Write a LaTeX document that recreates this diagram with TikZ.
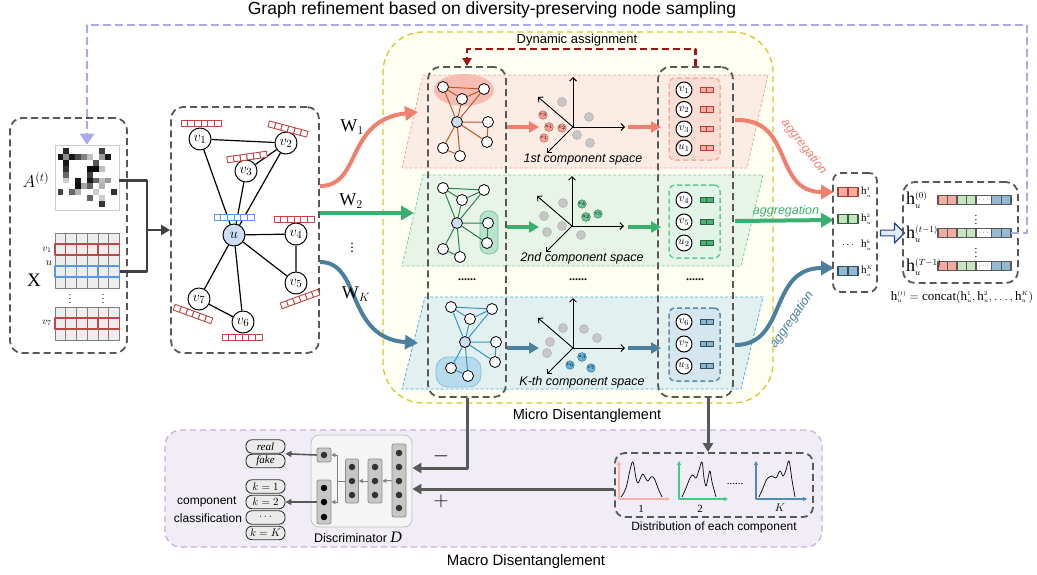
\documentclass[tikz,border=0pt]{standalone}
\usepackage{fontspec}
\setmainfont{Liberation Serif}
\setsansfont{Liberation Sans}
\usetikzlibrary{arrows.meta,shapes.arrows,calc}
\definecolor{sal}{RGB}{240,128,110}
\definecolor{psal}{RGB}{245,178,165}
\definecolor{grn}{RGB}{58,176,112}
\definecolor{pgrn}{RGB}{70,200,135}
\definecolor{tea}{RGB}{74,128,156}
\definecolor{ptea}{RGB}{80,140,180}
\definecolor{dgray}{RGB}{88,88,88}
\definecolor{lav}{RGB}{170,170,235}
\definecolor{yel}{RGB}{212,202,40}
\definecolor{yfill}{RGB}{254,254,242}
\definecolor{dred}{RGB}{160,20,20}
\definecolor{barred}{RGB}{190,70,70}
\definecolor{ublue}{RGB}{90,150,230}
\definecolor{ufill}{RGB}{205,222,245}
\definecolor{lfa}{RGB}{251,236,228}
\definecolor{lla}{RGB}{245,165,150}
\definecolor{lfb}{RGB}{233,244,232}
\definecolor{llb}{RGB}{120,205,165}
\definecolor{lfc}{RGB}{226,240,240}
\definecolor{llc}{RGB}{80,175,225}
\definecolor{ea}{RGB}{190,90,40}
\definecolor{eb}{RGB}{40,130,80}
\definecolor{ec}{RGB}{50,150,200}
\definecolor{mfill}{RGB}{241,237,246}
\definecolor{mline}{RGB}{200,175,225}
\definecolor{ba}{RGB}{180,60,50}
\definecolor{bfa}{RGB}{245,172,160}
\definecolor{bb}{RGB}{40,100,60}
\definecolor{bfb}{RGB}{200,228,190}
\definecolor{bc}{RGB}{45,80,100}
\definecolor{bfc}{RGB}{150,185,210}
\definecolor{mga}{RGB}{80,175,115}
\definecolor{mgc}{RGB}{140,180,205}
\definecolor{ina}{RGB}{250,222,212}
\definecolor{inb}{RGB}{226,243,232}
\definecolor{inc}{RGB}{214,230,238}
\definecolor{inla}{RGB}{245,175,160}
\definecolor{inlb}{RGB}{100,200,150}
\definecolor{inlc}{RGB}{90,140,170}
\tikzset{
  gbox/.style={draw=dgray, line width=1.8pt, dash pattern=on 7pt off 4pt, rounded corners=12pt, inner sep=0pt},
  vn/.style={circle, draw=black, line width=1pt, fill=white, minimum size=22pt, inner sep=0pt, font=\fontsize{15}{15}\selectfont},
  sn/.style={circle, draw=black, line width=0.8pt, fill=white, minimum size=11pt, inner sep=0pt},
  cn/.style={circle, draw=black, line width=1pt, fill=white, minimum size=16pt, inner sep=0pt, font=\fontsize{11}{11}\selectfont},
  gpt/.style={circle, draw=black!35, fill=black!22, minimum size=9pt, inner sep=0pt},
  cpt/.style={circle, draw=#1!70!black, fill=#1!75, minimum size=8.5pt, inner sep=0pt, font=\fontsize{5}{5}\selectfont},
  axl/.style={draw=black, line width=0.9pt, -{Straight Barb[length=3.5pt,width=7pt]}},
  larr/.style={draw=#1, line width=3.5pt, -{Triangle[length=10pt,width=11pt]}},
  warr/.style={draw=#1, line width=4pt, -{Triangle[length=13pt,width=14pt]}},
  bigarr/.style={draw=dgray, line width=3pt, -{Triangle[length=9pt,width=10pt]}},
  pill/.style={draw=black!80, line width=0.9pt, fill=black!8, rounded corners=6pt, minimum width=39pt, minimum height=13.5pt, inner sep=0pt, font=\fontsize{11}{11}\selectfont\itshape},
  layerbox/.style={draw=black!45, fill=black!22, line width=0.7pt, rounded corners=2pt, minimum width=14pt, inner sep=0pt},
  dn/.style={circle, fill=black!80, minimum size=6.5pt, inner sep=0pt},
  garr/.style={draw=black!50, line width=1pt, -{Triangle[length=4pt,width=4pt]}},
  darr/.style={draw=dgray, line width=1.6pt, -{Triangle[length=6pt,width=6pt]}},
  sflab/.style={font=\sffamily\fontsize{#1}{#1}\selectfont},
  itlab/.style={font=\sffamily\itshape\fontsize{12.5}{12.5}\selectfont},
  hlab/.style={font=\fontsize{18}{18}\selectfont, inner sep=0pt, anchor=west},
  pics/rbar/.style={code={\foreach \i in {0,...,5} \draw[draw=#1, line width=0.9pt, fill=white] (-20+\i*6.667,-3) rectangle ++(6.667,6);}},
  pics/mini/.style 2 args={code={\draw[draw=#1, fill=#2, line width=0.9pt] (-6.5,-2.75) rectangle (0,2.75) (0,-2.75) rectangle (6.5,2.75);}},
  pics/lgraph/.style={code={
    \node[sn,fill=ufill] (-c) at (0,0) {};
    \node[sn] (-tl) at (-14,-35) {};
    \node[sn] (-tr) at (27,-33) {};
    \node[sn] (-m) at (5,-23) {};
    \node[sn] (-r) at (31,0) {};
    \node[sn] (-rb) at (30,20) {};
    \node[sn] (-bl) at (-14,26) {};
    \node[sn] (-b) at (3,34) {};
    \draw[draw=#1, line width=1pt] (-tl)--(-tr) (-tl)--(-m) (-m)--(-tr) (-tl)--(-c) (-tr)--(-c) (-m)--(-c) (-c)--(-r) (-r)--(-rb) (-c)--(-rb) (-c)--(-bl) (-c)--(-b) (-bl)--(-b);
  }},
  pics/axes/.style={code={
    \coordinate (-o) at (0,0);
    \coordinate (-u) at (0,-50);
    \coordinate (-e) at (52,0);
    \coordinate (-d) at (-26,26);
    \coordinate (-w) at (-35,-30);
    \draw[axl] (-o) -- (-u); \draw[axl] (-o) -- (-e); \draw[axl] (-o) -- (-d); \draw[axl] (-o) -- (-w);
  }},
}
\begin{document}
\begin{tikzpicture}[x=1pt,y=-1pt, line join=round]
\path[use as bounding box] (0,0) rectangle (1037,574);
\fill[white] (0,0) rectangle (1037,574);

% title
\node[sflab=17.5] (title) at (492,10) {Graph refinement based on diversity-preserving node sampling};

% ===== micro box and layers
\node[draw=yel, fill=yfill, line width=1.3pt, dash pattern=on 6pt off 4pt, rounded corners=40pt, minimum width=390pt, minimum height=371pt, inner sep=0pt] (micro) at (578,217.5) {};
\node[sflab=14.5] (microlab) at (587,416) {Micro Disentanglement};

\draw[draw=lla, fill=lfa, line width=0.8pt, dash pattern=on 3pt off 2pt] (423,75) -- (768,75) -- (747,168) -- (402,168) -- cycle;
\draw[draw=llb, fill=lfb, line width=0.8pt, dash pattern=on 3pt off 2pt] (423,175) -- (763,175) -- (741,266) -- (402,266) -- cycle;
\draw[draw=llc, fill=lfc, line width=0.8pt, dash pattern=on 3pt off 2pt] (425,297) -- (763,297) -- (741,389) -- (402,389) -- cycle;

% highlight blobs
\fill[bfa!80] (464,90) ellipse [x radius=30, y radius=16];
\draw[draw=grn!70, fill=grn!35, line width=0.8pt, rounded corners=8pt] (480,211) rectangle (498,254);
\draw[draw=ec!60, fill=ec!35, line width=0.8pt, rounded corners=12pt] (436,357) rectangle (481,387);

% column boxes
\node[gbox, minimum width=78pt, minimum height=330pt] (col1) at (467,232) {};
\node[gbox, minimum width=75pt, minimum height=330pt] (col3) at (695.5,232) {};

% dynamic assignment
\draw[draw=dred, line width=2.4pt, dash pattern=on 7pt off 4pt, -{Triangle[length=8pt,width=9pt]}] (col3.north) -- ++(0,-17) -| (col1.north);
\node[sflab=13] (dalab) at (577,40) {Dynamic assignment};

% layer graphs
\pic (ga) at (457,122) {lgraph=ea};
\pic (gb) at (457,223) {lgraph=eb};
\pic (gc) at (465,342) {lgraph=ec};

% layer arrows
\coordinate (a1s) at (507,127); \coordinate (a1e) at (539,127);
\coordinate (b1s) at (628,127); \coordinate (b1e) at (661,127);
\coordinate (a2s) at (507,227); \coordinate (a2e) at (539,227);
\coordinate (b2s) at (628,227); \coordinate (b2e) at (661,227);
\coordinate (a3s) at (507,348); \coordinate (a3e) at (539,348);
\coordinate (b3s) at (628,348); \coordinate (b3e) at (661,348);
\draw[larr=sal] (a1s) -- (a1e); \draw[larr=sal] (b1s) -- (b1e);
\draw[larr=grn] (a2s) -- (a2e); \draw[larr=grn] (b2s) -- (b2e);
\draw[larr=tea] (a3s) -- (a3e); \draw[larr=tea] (b3s) -- (b3e);

% axes
\pic (xa) at (573,127) {axes};
\pic (xb) at (572,226) {axes};
\pic (xc) at (573,348) {axes};

% points layer 1
\node[gpt] (pa1) at (562,102) {}; \node[gpt] (pa2) at (589,117) {};
\node[gpt] (pa3) at (577,135) {}; \node[gpt] (pa4) at (590,143) {};
\node[cpt=sal] (qa1) at (543,115) {$v_3$}; \node[cpt=sal] (qa2) at (549,127) {$u_1$};
\node[cpt=sal] (qa3) at (562,128) {$v_2$}; \node[cpt=sal] (qa4) at (544,138) {$v_1$};
% points layer 2
\node[gpt] (pb1) at (563,203) {}; \node[gpt] (pb2) at (544,216) {};
\node[gpt] (pb3) at (562,226) {}; \node[gpt] (pb4) at (547,232) {};
\node[gpt] (pb5) at (581,235) {};
\node[cpt=grn] (qb1) at (582,204) {$v_4$}; \node[cpt=grn] (qb2) at (586,217) {$u_2$};
\node[cpt=grn] (qb3) at (598,214) {$v_5$};
% points layer 3
\node[gpt] (pc1) at (563,328) {}; \node[gpt] (pc2) at (584,329) {};
\node[gpt] (pc3) at (597,338) {}; \node[gpt] (pc4) at (550,342) {};
\node[gpt] (pc5) at (547,353) {};
\node[cpt=ec] (qc1) at (570,365) {$v_6$}; \node[cpt=ec] (qc2) at (582,357) {$u_3$};
\node[cpt=ec] (qc3) at (591,368) {$v_7$};

\node[itlab] (sa) at (583,159) {1st component space};
\node[itlab] (sb) at (582,258) {2nd component space};
\node[itlab] (sc) at (582,382) {K-th component space};

% dots between layers
\node[font=\bfseries\fontsize{12}{12}\selectfont] (dt1) at (467,280) {......};
\node[font=\bfseries\fontsize{12}{12}\selectfont] (dt2) at (578,280) {......};
\node[font=\bfseries\fontsize{12}{12}\selectfont] (dt3) at (695,280) {......};

% column 3 inner boxes
\node[draw=inla, fill=ina, line width=1.5pt, dash pattern=on 5pt off 3pt, rounded corners=6pt, minimum width=51pt, minimum height=82pt, inner sep=0pt] (ina) at (694.5,119) {};
\node[draw=inlb, fill=inb, line width=1.5pt, dash pattern=on 5pt off 3pt, rounded corners=6pt, minimum width=51pt, minimum height=73pt, inner sep=0pt] (inb) at (694.5,221.5) {};
\node[draw=inlc, fill=inc, line width=1.5pt, dash pattern=on 5pt off 3pt, rounded corners=6pt, minimum width=51pt, minimum height=73pt, inner sep=0pt] (inc) at (694.5,344.5) {};
\node[cn] (ka1) at (684,90) {$v_1$}; \pic at (706.5,90) {mini={ba}{bfa}};
\node[cn] (ka2) at (684,109.5) {$v_2$}; \pic at (706.5,109.5) {mini={ba}{bfa}};
\node[cn] (ka3) at (684,129) {$v_3$}; \pic at (706.5,129) {mini={ba}{bfa}};
\node[cn] (ka4) at (684,148) {$u_1$}; \pic at (706.5,148) {mini={ba}{bfa}};
\node[cn] (kb1) at (684,200) {$v_4$}; \pic at (706.5,200) {mini={bb}{mga}};
\node[cn] (kb2) at (684,222) {$v_5$}; \pic at (706.5,222) {mini={bb}{mga}};
\node[cn] (kb3) at (684,243) {$u_2$}; \pic at (706.5,243) {mini={bb}{mga}};
\node[cn] (kc1) at (684,322) {$v_6$}; \pic at (706.5,322) {mini={bc}{mgc}};
\node[cn] (kc2) at (684,344) {$v_7$}; \pic at (706.5,344) {mini={bc}{mgc}};
\node[cn] (kc3) at (684,366) {$u_3$}; \pic at (706.5,366) {mini={bc}{mgc}};

% ===== left box
\node[gbox, minimum width=117pt, minimum height=235pt] (lbox) at (68.5,235.5) {};
\node[draw=black!20, fill=white, line width=0.6pt, minimum width=64pt, minimum height=65pt, inner sep=0pt] (Amat) at (87,177.5) {};
\foreach \r/\row in {0/{0,85,0,0,0,0,0,75,0,0},1/{90,45,90,70,50,25,0,40,90,0},2/{0,90,0,0,0,0,65,0,0,0},3/{0,80,0,0,0,95,95,25,0,0},4/{0,60,0,0,0,75,0,0,0,0},5/{0,20,0,90,0,90,60,25,40,0},6/{0,0,0,95,35,60,0,30,0,0},7/{75,0,60,30,0,0,20,0,0,80},8/{0,0,0,0,0,60,0,20,0,0},9/{0,0,0,0,0,0,0,80,0,0}}{
  \foreach \v [count=\c from 0] in \row {\fill[black!\v] (57.5+\c*5.9,148+\r*5.9) rectangle ++(5.9,5.9);}
}
\node[font=\fontsize{17}{17}\selectfont] (Alab) at (36,180) {$A^{(t)}$};
\foreach \r in {0,...,4}{\foreach \c in {0,...,5}{\draw[draw=black!50, fill=black!7, line width=0.8pt] (55+\c*10.75,233+\r*11) rectangle ++(10.75,11);}}
\foreach \r in {0,...,2}{\foreach \c in {0,...,5}{\draw[draw=black!50, fill=black!7, line width=0.8pt] (55+\c*10.75,307+\r*11) rectangle ++(10.75,11);}}
\foreach \c in {0,...,5}{\draw[draw=barred, line width=1.3pt] (55+\c*10.75,244) rectangle ++(10.75,11);}
\foreach \c in {0,...,5}{\draw[draw=barred, line width=1.3pt] (55+\c*10.75,318) rectangle ++(10.75,11);}
\foreach \c in {0,...,5}{\draw[draw=ublue, line width=1.3pt] (55+\c*10.75,266) rectangle ++(10.75,11);}
\node[inner sep=0pt, minimum width=64.5pt, minimum height=11pt] (Xu) at (87.25,271.5) {};
\node[font=\fontsize{10}{10}\selectfont] (lv1) at (47,250) {$v_1$};
\node[font=\fontsize{11}{11}\selectfont] (lu) at (49,263) {$u$};
\node[font=\fontsize{19}{19}\selectfont] (lX) at (34,280) {X};
\node[font=\fontsize{10}{10}\selectfont] (lv7) at (47,323) {$v_7$};
\node[font=\fontsize{10}{10}\selectfont] (xd1) at (70,296) {$\vdots$};
\node[font=\fontsize{10}{10}\selectfont] (xd2) at (103,296) {$\vdots$};

\coordinate (jn) at (147,230);
\node[gbox, minimum width=148pt, minimum height=246pt] (gbx) at (245,230) {};
\draw[line width=2.2pt, draw=black!75] ($(Amat.east)+(0,3)$) -| (jn);
\draw[line width=2.2pt, draw=black!75] (Xu.east) -| (jn);
\draw[line width=2.2pt, draw=black!75, -{Triangle[length=9pt,width=10pt]}] (jn) -- (gbx.west |- jn);

% ===== main graph
\coordinate (pv1) at (200,139); \coordinate (pv2) at (286,143); \coordinate (pv3) at (246,171);
\coordinate (pu) at (234,235); \coordinate (pv4) at (296,234); \coordinate (pv5) at (296,283);
\coordinate (pv7) at (199,299); \coordinate (pv6) at (243,322);
\node[vn] (v1) at (pv1) {$v_1$};
\node[vn] (v2) at (pv2) {$v_2$};
\node[vn] (v3) at (pv3) {$v_3$};
\node[vn, fill=ufill] (u) at (pu) {$u$};
\node[vn] (v4) at (pv4) {$v_4$};
\node[vn] (v5) at (pv5) {$v_5$};
\node[vn] (v7) at (pv7) {$v_7$};
\node[vn] (v6) at (pv6) {$v_6$};
\draw[line width=1.2pt] (v1)--(v2) (v2)--(v3) (v1)--(u) (v3)--(u) (v2)--(u) (u)--(v4) (v4)--(v5) (u)--(v5) (u)--(v7) (u)--(v6) (v7)--(v6);
\pic at (201,123) {rbar=barred};
\pic[rotate=-15] at (288,129) {rbar=barred};
\pic[rotate=8] at (247,157) {rbar=barred};
\pic at (234,217) {rbar=ublue};
\pic at (294,219) {rbar=barred};
\pic[rotate=20] at (300,299) {rbar=barred};
\pic[rotate=-20] at (193,314) {rbar=barred};
\pic at (242,337) {rbar=barred};

% W arrows
\coordinate (w1s) at (320,186); \coordinate (w1e) at (418,112);
\coordinate (w2s) at (320,213); \coordinate (w2e) at (414,213);
\coordinate (w3s) at (320,262); \coordinate (w3e) at (418,343);
\draw[warr=sal] (w1s) .. controls (362,186) and (345,120) .. (w1e);
\draw[warr=grn] (w2s) -- (w2e);
\draw[warr=tea] (w3s) .. controls (362,262) and (345,338) .. (w3e);
\node[font=\fontsize{18}{18}\selectfont] (W1) at (352,127) {$\mathrm{W}_1$};
\node[font=\fontsize{18}{18}\selectfont] (W2) at (351,201) {$\mathrm{W}_2$};
\node[font=\fontsize{14}{14}\selectfont] (Wd) at (352,245) {$\vdots$};
\node[font=\fontsize{18}{18}\selectfont] (WK) at (356,294) {$\mathrm{W}_K$};

% ===== aggregation
\coordinate (g1s) at (735,120); \coordinate (g1e) at (834,192);
\coordinate (g2s) at (735,221); \coordinate (g2e) at (834,220);
\coordinate (g3s) at (735,345); \coordinate (g3e) at (834,268);
\draw[warr=sal] (g1s) .. controls (795,118) and (772,192) .. (g1e);
\draw[warr=grn] (g2s) -- (g2e);
\draw[warr=tea] (g3s) .. controls (788,345) and (768,268) .. (g3e);
\node[rotate=-52, text=sal, font=\sffamily\itshape\fontsize{12.5}{12.5}\selectfont] (ag1) at (804,147) {aggregation};
\node[text=grn, font=\sffamily\itshape\fontsize{12.5}{12.5}\selectfont] (ag2) at (786,211) {aggregation};
\node[rotate=55, text=tea, font=\sffamily\itshape\fontsize{12.5}{12.5}\selectfont] (ag3) at (792,320) {aggregation};

\node[gbox, rounded corners=8pt, minimum width=44pt, minimum height=119pt] (cbox) at (855,232.5) {};
\draw[draw=ba, fill=bfa, line width=1.1pt] (838,187.5) rectangle ++(10,9) (848,187.5) rectangle ++(10,9);
\draw[draw=bb, fill=bfb, line width=1.1pt] (838,214.5) rectangle ++(10,9) (848,214.5) rectangle ++(10,9);
\draw[draw=bc, fill=bfc, line width=1.1pt] (838,266.5) rectangle ++(10,9) (848,266.5) rectangle ++(10,9);
\node[font=\fontsize{11}{11}\selectfont, inner sep=0pt, anchor=west] (hc1) at (861,192) {$\mathrm{h}_{\scriptscriptstyle u}^{\scriptscriptstyle 1}$};
\node[font=\fontsize{11}{11}\selectfont, inner sep=0pt, anchor=west] (hc2) at (861,219) {$\mathrm{h}_{\scriptscriptstyle u}^{\scriptscriptstyle 2}$};
\node[font=\fontsize{10}{10}\selectfont, inner sep=0pt] (hcd) at (848,245) {$\cdots$};
\node[font=\fontsize{11}{11}\selectfont, inner sep=0pt, anchor=west] (hck) at (861,245) {$\mathrm{h}_{\scriptscriptstyle u}^{\scriptscriptstyle k}$};
\node[font=\fontsize{11}{11}\selectfont, inner sep=0pt, anchor=west] (hcK) at (861,271) {$\mathrm{h}_{\scriptscriptstyle u}^{\scriptscriptstyle K}$};

\node[single arrow, draw={rgb,255:red,30;green,70;blue,150}, fill={rgb,255:red,225;green,235;blue,250}, line width=1.2pt, minimum height=24pt, minimum width=20pt, single arrow head extend=4pt, inner sep=1pt] (harr) at (891,233) {};

\node[gbox, rounded corners=12pt, minimum width=115pt, minimum height=101pt] (hbox) at (960.5,232.5) {};
\foreach \yy in {200,233,266}{
  \draw[draw=dgray, line width=1.2pt, fill=bfa] (938,\yy-4.5) rectangle ++(9.5,9) (947.5,\yy-4.5) rectangle ++(9.5,9);
  \draw[draw=dgray, line width=1.2pt, fill=bfb] (957,\yy-4.5) rectangle ++(9.5,9) (966.5,\yy-4.5) rectangle ++(9.5,9);
  \draw[draw=dgray, line width=1.2pt, fill=white] (976,\yy-4.5) rectangle ++(15.5,9);
  \draw[draw=dgray, line width=1.2pt, fill=bfc] (991.5,\yy-4.5) rectangle ++(9.75,9) (1001.25,\yy-4.5) rectangle ++(9.75,9);
}
\node[font=\fontsize{7}{7}\selectfont, inner sep=0pt] (hdot1) at (983.75,200) {$\cdots$};
\node[font=\fontsize{7}{7}\selectfont, inner sep=0pt] (hdot2) at (983.75,233) {$\cdots$};
\node[font=\fontsize{7}{7}\selectfont, inner sep=0pt] (hdot3) at (983.75,266) {$\cdots$};
\node[hlab] (h0) at (906,200) {$\mathrm{h}_{\scriptscriptstyle u}^{\scriptscriptstyle (0)}$};
\node[hlab] (h1) at (906,234) {$\mathrm{h}_{\scriptscriptstyle u}^{\scriptscriptstyle (t-1)}$};
\node[hlab] (h2) at (906,267) {$\mathrm{h}_{\scriptscriptstyle u}^{\scriptscriptstyle (T-1)}$};
\node[font=\fontsize{11}{11}\selectfont] (hd1) at (976,217) {$\vdots$};
\node[font=\fontsize{11}{11}\selectfont] (hd2) at (976,250) {$\vdots$};
\node[font=\fontsize{13}{13}\selectfont] (form) at (962,297) {$\mathrm{h}_{\scriptscriptstyle u}^{\scriptscriptstyle (t)}=\mathrm{concat}(\mathrm{h}_{\scriptscriptstyle u}^{\scriptscriptstyle 1},\mathrm{h}_{\scriptscriptstyle u}^{\scriptscriptstyle 2},\ldots,\mathrm{h}_{\scriptscriptstyle u}^{\scriptscriptstyle K})$};

% lavender refinement line
\coordinate (hb2e) at (1011,233);
\coordinate (lavc) at (1027,25);
\draw[draw=lav, line width=2.4pt, dash pattern=on 8pt off 4pt, -{Triangle[length=11pt,width=14pt]}] (hb2e) -| (lavc) -| (Amat.north);

% ===== macro
\node[draw=mline, fill=mfill, line width=1.3pt, dash pattern=on 6pt off 4pt, rounded corners=16pt, minimum width=657pt, minimum height=117pt, inner sep=0pt] (macro) at (493.5,488.5) {};
\node[sflab=15] (macrolab) at (526,562) {Macro Disentanglement};

\node[draw=black!25, fill=black!4, line width=0.8pt, rounded corners=8pt, minimum width=101pt, minimum height=92pt, inner sep=0pt] (disc) at (361.5,481) {};
\node[layerbox, minimum height=14pt] (dout) at (324,455) {};
\node[layerbox, minimum height=44pt] (dcls) at (324,502) {};
\node[layerbox, minimum height=44pt, minimum width=13pt] (dh1) at (352,481) {};
\node[layerbox, minimum height=44pt] (dh2) at (375,481) {};
\node[layerbox, minimum height=73pt] (din) at (399,480.5) {};
\foreach \x/\y [count=\i] in {324/455,352/467,352/481,352/495,375/467,375/481,375/495,399/453,399/467,399/481,399/495,399/508}{\node[dn] (dg\i) at (\x,\y) {};}
\foreach \y [count=\i] in {488,502,517}{\node[dn, fill=black] (dk\i) at (324,\y) {};}
\draw[garr] (din.west) -- (dh2.east);
\draw[garr] (dh2.west) -- (dh1.east);
\draw[garr] (dh1.west) -- ++(-7.5,0) |- (dout.east);
\draw[garr] (dh1.west) -- ++(-7.5,0) |- (dcls.east);

\node[pill] (preal) at (265.5,446.5) {real};
\node[pill] (pfake) at (265.5,461) {fake};
\node[pill] (pk1) at (265.5,486.5) {$k=1$};
\node[pill] (pk2) at (265.5,502) {$k=2$};
\node[pill] (pdots) at (265.5,517.5) {$\cdots$};
\node[pill] (pkK) at (265.5,533) {$k=K$};
\draw[darr] (dout.west) -- ($(preal.east)!0.5!(pfake.east)$);
\draw[darr] (dcls.west) -- (pk2.east);
\node[sflab=12, anchor=east] (ccl1) at (240,502) {component};
\node[sflab=12, anchor=east] (ccl2) at (245.5,518) {classification};
\node[sflab=12.5] (dlab) at (358,537) {Discriminator {\rmfamily\itshape\fontsize{16}{16}\selectfont D}};
\node[font=\fontsize{20}{20}\selectfont] (minus) at (441,456) {$-$};
\node[font=\fontsize{20}{20}\selectfont] (plus) at (441,501) {$+$};

\node[gbox, rounded corners=10pt, minimum width=198pt, minimum height=64pt] (dist) at (714,485) {};
\draw[bigarr] (col1.south) |- ($(disc.east)+(0,-13)$);
\draw[bigarr] ($(dist.west)+(0,4)$) -- ($(disc.east)+(0,8)$);
\draw[bigarr] ($(col3.south)+(12.5,0)$) -- ($(dist.north)+(-6,0)$);

\coordinate (o1) at (619,499); \coordinate (o2) at (679,499); \coordinate (o3) at (756,499);
\draw[draw=psal, line width=1.2pt, {Triangle[length=4pt,width=4pt]}-{Triangle[length=4pt,width=4pt]}] ($(o1)+(0,-38)$) |- ($(o1)+(51,0)$);
\draw[draw=pgrn, line width=1.2pt, {Triangle[length=4pt,width=4pt]}-{Triangle[length=4pt,width=4pt]}] ($(o2)+(0,-38)$) |- ($(o2)+(49,0)$);
\draw[draw=ptea, line width=1.2pt, {Triangle[length=4pt,width=4pt]}-{Triangle[length=4pt,width=4pt]}] ($(o3)+(0,-38)$) |- ($(o3)+(51,0)$);
\draw[line width=0.7pt] plot[smooth, tension=0.6] coordinates {(621,497) (626,488) (630,470) (633,462) (636,478) (638,483) (641,477) (643,474) (646,479) (648,481) (651,477) (654,478) (658,488) (662,497)};
\draw[line width=0.7pt] plot[smooth, tension=0.6] coordinates {(682,497) (686,488) (690,478) (693,475) (696,478) (699,470) (702,462) (704,478) (706,486) (708,478) (710,471) (712,482) (716,497)};
\draw[line width=0.7pt] plot[smooth, tension=0.6] coordinates {(759,497) (763,488) (767,479) (772,476) (776,478) (780,471) (783,476) (786,470) (789,461) (792,480) (795,497)};
\node[font=\fontsize{11}{11}\selectfont] (n1) at (641,509) {1};
\node[font=\fontsize{11}{11}\selectfont] (n2) at (700,509) {2};
\node[font=\fontsize{11}{11}\selectfont] (nK) at (780,508) {$K$};
\node[font=\fontsize{11}{11}\selectfont] (pdd) at (735,484) {......};
\node[sflab=12] (distlab) at (714,527) {Distribution of each component};
\end{tikzpicture}
\end{document}
